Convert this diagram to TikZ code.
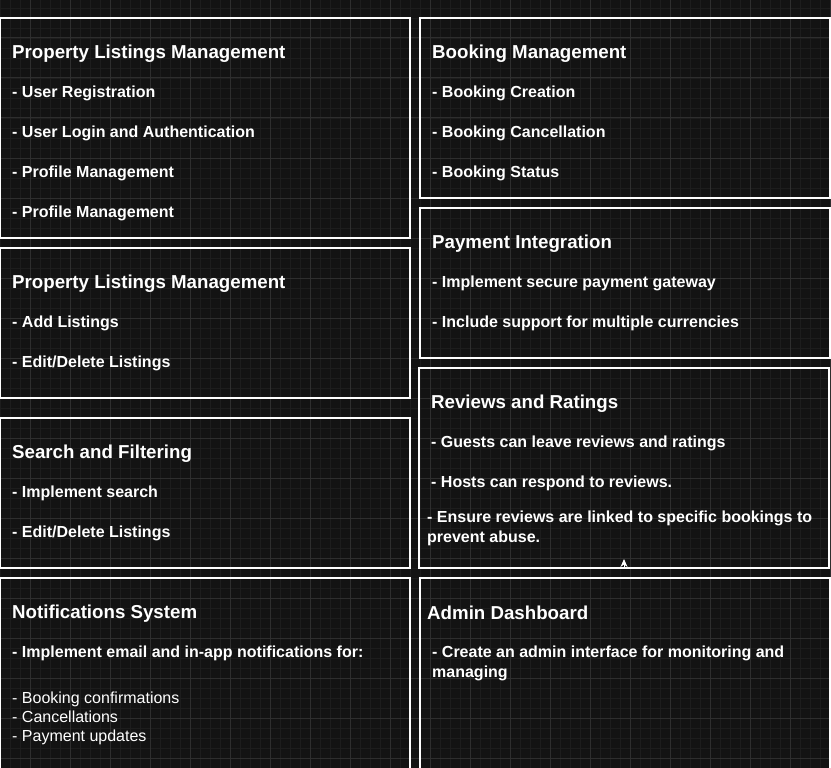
\documentclass[tikz,border=0pt]{standalone}
\usepackage{fontspec}
\setmainfont{Liberation Sans}
\usetikzlibrary{arrows.meta}
\definecolor{bgc}{HTML}{131313}
\definecolor{minorc}{HTML}{1D1D1D}
\definecolor{majorc}{HTML}{2E2E2E}
\tikzset{
  box/.style={draw=white, line width=1.2pt, inner sep=0pt, outer sep=0pt, anchor=north west},
  ttl/.style={anchor=base west, inner sep=0pt, text=white, font=\bfseries\fontsize{18.7}{22}\selectfont},
  itm/.style={anchor=base west, inner sep=0pt, text=white, font=\bfseries\fontsize{16}{19}\selectfont},
  reg/.style={anchor=base west, inner sep=0pt, text=white, font=\fontsize{16}{19}\selectfont},
  minorgrid/.style={draw=minorc, line width=0.8pt},
  majorgrid/.style={draw=majorc, line width=1pt},
  tinyarrow/.style={draw=white, line width=1pt, -{Stealth[length=8pt,width=7pt]}}
}
\begin{document}
\begin{tikzpicture}[x=1pt,y=-1pt]
\useasboundingbox (0,0) rectangle (831,768);
\fill[bgc] (0,0) rectangle (831,768);
% grid
\foreach \x in {0,10,...,830} \draw[minorgrid] (\x,0) -- (\x,768);
\foreach \y in {8,18,...,768} \draw[minorgrid] (0,\y) -- (831,\y);
\foreach \x in {30,70,...,830} \draw[majorgrid] (\x,0) -- (\x,768);
\foreach \y in {38,78,...,768} \draw[majorgrid] (0,\y) -- (831,\y);
% boxes left
\node (l1) [box, minimum width=409.4pt, minimum height=220pt] at (0.6,18) {};
\node (l2) [box, minimum width=409.4pt, minimum height=150pt] at (0.6,248) {};
\node (l3) [box, minimum width=409.4pt, minimum height=150pt] at (0.6,418) {};
\node (l4) [box, minimum width=409.4pt, minimum height=200pt] at (0.6,578) {};
% boxes right
\node (r1) [box, minimum width=410pt, minimum height=180pt] at (420,18) {};
\node (r2) [box, minimum width=410pt, minimum height=150pt] at (420,208) {};
\node (r3) [box, minimum width=410pt, minimum height=200pt] at (419,368) {};
\node (r4) [box, minimum width=410pt, minimum height=200pt] at (420,578) {};
% texts left 1
\node (t1) [ttl] at (12,58.5) {Property Listings Management};
\node (t1a) [itm] at (12,97.5) {- User Registration};
\node (t1b) [itm] at (12,137.5) {- User Login and Authentication};
\node (t1c) [itm] at (12,177.5) {- Profile Management};
\node (t1d) [itm] at (12,217.5) {- Profile Management};
% left 2
\node (t2) [ttl] at (12,288.5) {Property Listings Management};
\node (t2a) [itm] at (12,327.5) {- Add Listings};
\node (t2b) [itm] at (12,367.5) {- Edit/Delete Listings};
% left 3
\node (t3) [ttl] at (12,458.5) {Search and Filtering};
\node (t3a) [itm] at (12,497.5) {- Implement search};
\node (t3b) [itm] at (12,537.5) {- Edit/Delete Listings};
% left 4
\node (t4) [ttl] at (12,618.5) {Notifications System};
\node (t4a) [itm] at (12,657) {- Implement email and in-app notifications for:};
\node (t4b) [reg] at (12,703) {- Booking confirmations};
\node (t4c) [reg] at (12,722) {- Cancellations};
\node (t4d) [reg] at (12,741) {- Payment updates};
% right 1
\node (s1) [ttl] at (432,58.5) {Booking Management};
\node (s1a) [itm] at (432,97.5) {- Booking Creation};
\node (s1b) [itm] at (432,137.5) {- Booking Cancellation};
\node (s1c) [itm] at (432,177.5) {- Booking Status};
% right 2
\node (s2) [ttl] at (432,248.5) {Payment Integration};
\node (s2a) [itm] at (432,287.5) {- Implement secure payment gateway};
\node (s2b) [itm] at (432,327.5) {- Include support for multiple currencies};
% right 3
\node (s3) [ttl] at (431,408.5) {Reviews and Ratings};
\node (s3a) [itm] at (431,447.5) {- Guests can leave reviews and ratings};
\node (s3b) [itm] at (431,487.5) {- Hosts can respond to reviews.};
\node (s3c) [itm] at (427,522) {- Ensure reviews are linked to specific bookings to};
\node (s3d) [itm] at (427,542) {prevent abuse.};
% right 4
\node (s4) [ttl] at (427,619) {Admin Dashboard};
\node (s4a) [itm] at (432,657.5) {- Create an admin interface for monitoring and};
\node (s4b) [itm] at (432,677) {managing};
% tiny arrow
\coordinate (tip) at (624,559);
\draw[tinyarrow] (r3.south) -- (tip);
\end{tikzpicture}
\end{document}
